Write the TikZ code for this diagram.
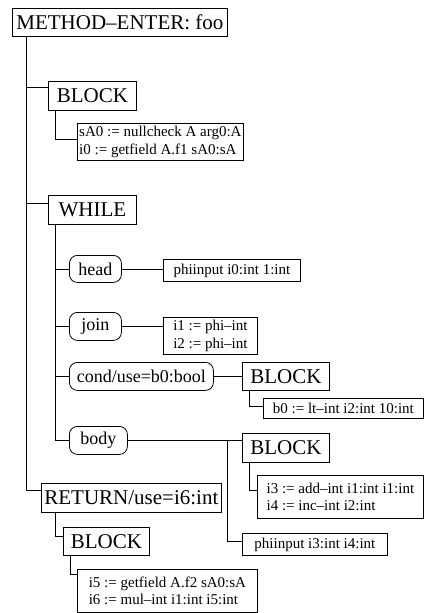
\documentclass[tikz,border=0pt]{standalone}
\usepackage{fontspec}
\setmainfont{Liberation Serif}
\usetikzlibrary{calc}
\begin{document}
\begin{tikzpicture}[x=1pt,y=-1pt,
  box/.style={draw, line width=0.8pt, inner sep=0pt, anchor=north west},
  big/.style={box, font=\fontsize{21}{23}\selectfont},
  mid/.style={box, rounded corners=8pt, font=\fontsize{18}{20}\selectfont},
  small/.style={box, align=left, font=\fontsize{15}{17.5}\selectfont},
  wire/.style={line width=0.8pt}]
\useasboundingbox (0,0) rectangle (425,613);

% method entry and its direct children
\node[big, minimum width=215pt, minimum height=28pt] (menter) at (12,8) {METHOD–ENTER: foo};
\node[big, minimum width=88pt, minimum height=29pt] (block1) at (48,81) {BLOCK};
\node[small, minimum width=166pt, minimum height=37pt] (code1) at (77,123)
  {sA0 := nullcheck A arg0:A\\i0 := getfield A.f1 sA0:sA};
\node[big, minimum width=88pt, minimum height=29pt] (while) at (48,195) {WHILE};

% loop parts
\node[mid, minimum width=52pt, minimum height=27pt] (head) at (69,255) {head};
\node[small, minimum width=137pt, minimum height=22pt] (phi1) at (163,259) {phiinput i0:int 1:int};
\node[mid, minimum width=52pt, minimum height=28pt] (join) at (69,312) {join};
\node[small, minimum width=94pt, minimum height=37pt] (code2) at (163,317)
  {i1 := phi–int\\i2 := phi–int};
\node[mid, minimum width=144pt, minimum height=28pt] (cond) at (69,362) {cond/use=b0:bool};
\node[big, minimum width=87pt, minimum height=28pt] (block2) at (242,362) {BLOCK};
\node[small, minimum width=160pt, minimum height=20pt] (code3) at (263,398) {b0 := lt–int i2:int 10:int};
\node[mid, minimum width=58pt, minimum height=28pt] (body) at (69,426) {body};
\node[big, minimum width=87pt, minimum height=29pt] (block3) at (242,433) {BLOCK};
\node[small, minimum width=166pt, minimum height=43pt] (code4) at (257,475)
  {i3 := add–int i1:int i1:int\\i4 := inc–int i2:int};
\node[small, minimum width=145pt, minimum height=22pt] (phi2) at (242,533) {phiinput i3:int i4:int};

% return
\node[big, minimum width=180pt, minimum height=29pt] (ret) at (41,483) {RETURN/use=i6:int};
\node[big, minimum width=86pt, minimum height=28pt] (block4) at (63,527) {BLOCK};
\node[small, minimum width=180pt, minimum height=43pt] (code5) at (77,569)
  {i5 := getfield A.f2 sA0:sA\\i6 := mul–int i1:int i5:int};

% main trunk
\draw[wire] ($(menter.south west)+(14,0)$) coordinate (t0) |- ($(ret.north west)+(0,7)$);
\draw[wire] (t0 |- 0,87) -- ($(block1.north west)+(0,6)$);
\draw[wire] (t0 |- 0,203) -- ($(while.north west)+(0,8)$);

\draw[wire] ($(block1.south west)+(7,0)$) |- ($(code1.north west)+(0,16)$);

% loop trunk
\draw[wire] ($(while.south west)+(7,0)$) coordinate (t1) |- (body.west);
\draw[wire] (t1 |- head.west) -- (head.west);
\draw[wire] (t1 |- join.west) -- (join.west);
\draw[wire] (t1 |- cond.west) -- (cond.west);

\draw[wire] (head.east) -- (head.east -| phi1.west);
\draw[wire] (join.east) -- (join.east -| code2.west);
\draw[wire] (cond.east) -- (cond.east -| block2.west);
\draw[wire] ($(block2.south west)+(7,0)$) |- ($(code3.north west)+(0,8)$);

\draw[wire] (body.east) -- (body.east -| block3.west);
\draw[wire] ($(body.east -| block3.west)+(-15,0)$) |- ($(phi2.north west)+(0,8)$);
\draw[wire] ($(block3.south west)+(7,0)$) |- ($(code4.north west)+(0,15)$);

% return children
\draw[wire] ($(ret.south west)+(14,0)$) |- ($(block4.north west)+(0,9)$);
\draw[wire] ($(block4.south west)+(7,0)$) |- ($(code5.north west)+(0,5)$);
\end{tikzpicture}
\end{document}
